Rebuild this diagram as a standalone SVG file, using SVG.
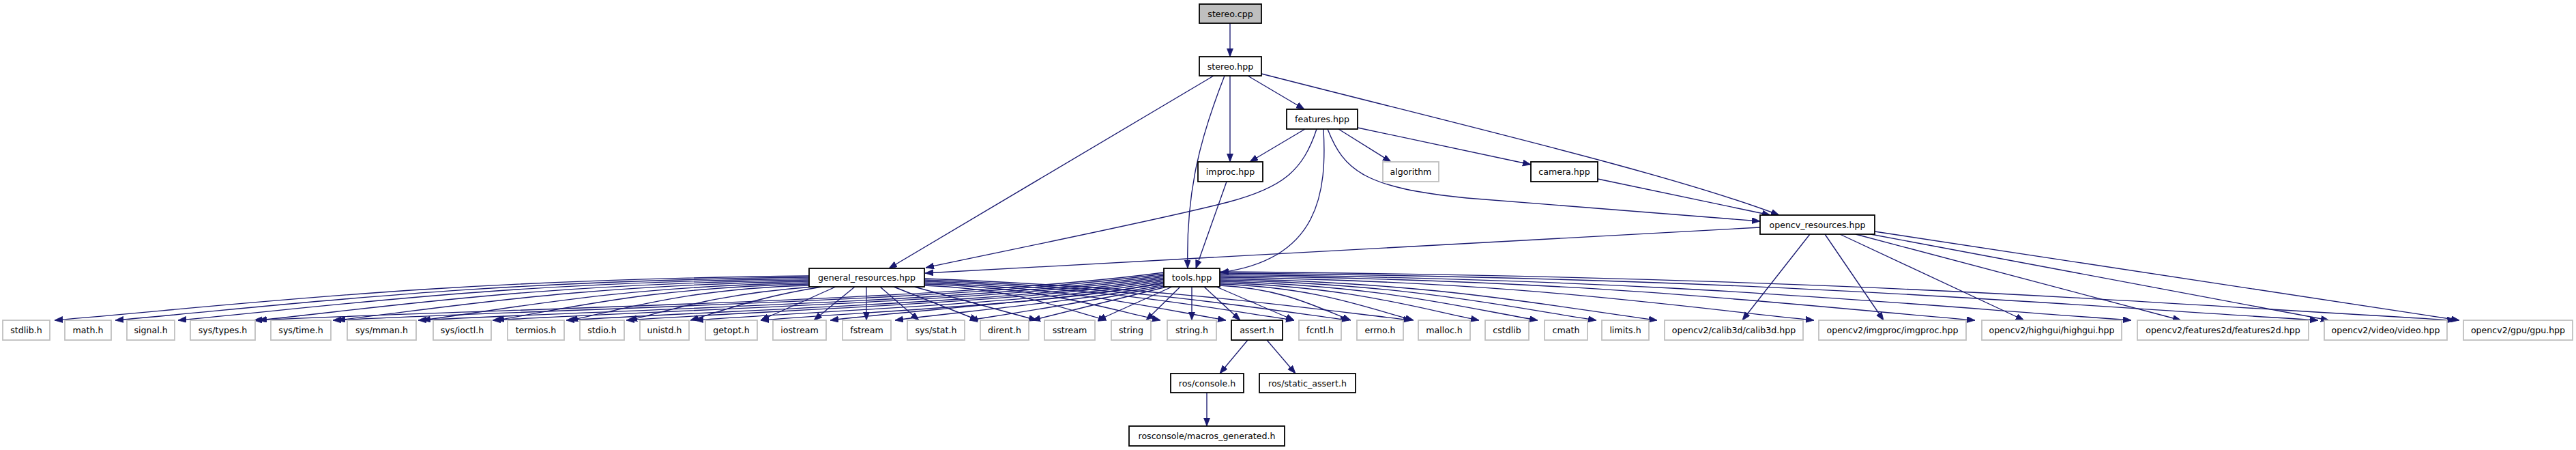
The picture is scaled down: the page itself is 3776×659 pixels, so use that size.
<svg xmlns="http://www.w3.org/2000/svg" width="3776" height="659" viewBox="0 0 3776 659">
<style>
.n rect{fill:#fff;stroke:#000;stroke-width:1.8}
.x rect{fill:#fff;stroke:#bfbfbf;stroke-width:1.8}
.root rect{fill:#bfbfbf;stroke:#000;stroke-width:1.8}
text{font-family:"DejaVu Sans",sans-serif;font-size:12.6px;text-anchor:middle;fill:#000}
#edges path{fill:none;stroke:#191970;stroke-width:1.35;marker-end:url(#ah)}
</style>
<defs>
<marker id="ah" markerUnits="userSpaceOnUse" markerWidth="13" markerHeight="10" refX="12" refY="4.5" orient="auto">
<path d="M0,0 L12,4.5 L0,9 Z" fill="#191970" stroke="#191970" stroke-width="0.8"/>
</marker>
</defs>
<rect width="3776" height="659" fill="#fff"/>
<g id="edges">
<path d="M1803,34 L1803,83"/>
<path d="M1829,111 L1912,160"/>
<path d="M1803,111 L1803,237"/>
<path d="M1779,111 L1303,393"/>
<path d="M1795,111 C1760,200 1738,280 1741,393"/>
<path d="M1849,108 C2150,185 2450,255 2608,315"/>
<path d="M1913,189 L1832,237"/>
<path d="M1962,189 L2039,237"/>
<path d="M1990,187 L2244,241"/>
<path d="M1930,189 C1910,250 1880,275 1800,296 C1700,322 1450,372 1357,392"/>
<path d="M1940,189 C1945,280 1935,380 1789,399"/>
<path d="M1946,189 C1970,250 2000,275 2150,290 L2580,324"/>
<path d="M1798,266 L1753,393"/>
<path d="M2342,262 L2595,315"/>
<path d="M2580,333 L1356,400"/>
<path d="M2653,343 L2554,469"/>
<path d="M2675,343 L2761,469"/>
<path d="M2697,343 L2967,469"/>
<path d="M2720,343 L3197,469"/>
<path d="M2742,343 L3414,469"/>
<path d="M2748,339 L3605,469"/>
<path d="M1186,404 C633,410 356,446 80,469"/>
<path d="M1186,406 C677,412 423,447 169,469"/>
<path d="M1186,408 C723,414 492,448 261,469"/>
<path d="M1186,410 C782,416 581,448 379,469"/>
<path d="M1186,412 C840,418 667,449 494,469"/>
<path d="M1186,414 C902,420 761,450 619,469"/>
<path d="M1186,416 C956,421 842,450 727,469"/>
<path d="M1186,418 C1010,423 923,451 835,469"/>
<path d="M1192,420 C1057,430 990,452 922,469"/>
<path d="M1205,420 C1110,435 1060,455 1012,469"/>
<path d="M1225,420 L1115,469"/>
<path d="M1253,420 L1193,469"/>
<path d="M1270,420 L1270,469"/>
<path d="M1290,420 L1347,469"/>
<path d="M1310,420 L1434,469"/>
<path d="M1340,420 L1520,469"/>
<path d="M1355,418 C1488,423 1555,451 1622,469"/>
<path d="M1355,416 C1528,421 1614,450 1701,469"/>
<path d="M1355,414 C1576,422 1686,450 1797,469"/>
<path d="M1355,412 C1626,422 1761,449 1897,469"/>
<path d="M1355,410 C1666,422 1821,448 1977,469"/>
<path d="M1355,408 C1712,422 1890,448 2069,469"/>
<path d="M1706,399 C1399,440 799,450 372,469"/>
<path d="M1706,401 C1426,440 878,450 488,469"/>
<path d="M1706,403 C1455,441 963,451 613,469"/>
<path d="M1706,405 C1480,441 1037,451 722,469"/>
<path d="M1706,407 C1505,442 1110,452 830,469"/>
<path d="M1706,409 C1525,442 1170,452 918,469"/>
<path d="M1706,411 C1548,443 1239,453 1019,469"/>
<path d="M1706,413 C1570,444 1304,454 1115,469"/>
<path d="M1706,415 C1560,440 1330,455 1217,469"/>
<path d="M1706,417 C1580,442 1400,457 1312,469"/>
<path d="M1706,419 C1610,440 1490,458 1421,469"/>
<path d="M1710,420 L1513,469"/>
<path d="M1718,420 L1609,469"/>
<path d="M1730,420 L1680,469"/>
<path d="M1747,420 L1747,469"/>
<path d="M1765,420 L1818,469"/>
<path d="M1783,420 L1897,469"/>
<path d="M1788,418 C1884,423 1932,451 1980,469"/>
<path d="M1788,416 C1930,421 2001,450 2072,469"/>
<path d="M1788,414 C1978,420 2073,450 2168,469"/>
<path d="M1788,412 C2021,418 2137,449 2254,469"/>
<path d="M1788,410 C2064,416 2202,448 2340,469"/>
<path d="M1788,408 C2108,414 2269,448 2429,469"/>
<path d="M1788,406 C2223,412 2441,447 2659,469"/>
<path d="M1788,404 C2341,410 2618,446 2895,469"/>
<path d="M1788,402 C2456,409 2790,446 3124,469"/>
<path d="M1788,400 C2593,407 2995,445 3398,469"/>
<path d="M1788,398 C2693,405 3146,444 3599,469"/>
<path d="M1829,498 L1788,547"/>
<path d="M1857,498 L1899,547"/>
<path d="M1769,575 L1769,624"/>
</g>
<g id="n-stereo-cpp" class="root"><rect x="1758" y="6" width="91" height="28"/><text x="1803.5" y="24.5">stereo.cpp</text></g>
<g id="n-stereo-hpp" class="n"><rect x="1758" y="83" width="91" height="28"/><text x="1803.5" y="101.5">stereo.hpp</text></g>
<g id="n-features" class="n"><rect x="1886" y="160" width="104" height="29"/><text x="1938" y="179">features.hpp</text></g>
<g id="n-improc" class="n"><rect x="1756" y="237" width="95" height="29"/><text x="1803.5" y="256">improc.hpp</text></g>
<g id="n-algorithm" class="x"><rect x="2027" y="237" width="82" height="29"/><text x="2068" y="256">algorithm</text></g>
<g id="n-camera" class="n"><rect x="2244" y="237" width="98" height="29"/><text x="2293" y="256">camera.hpp</text></g>
<g id="n-opencv-resources" class="n"><rect x="2580" y="315" width="168" height="28"/><text x="2664" y="333.5">opencv_resources.hpp</text></g>
<g id="n-general-resources" class="n"><rect x="1186" y="393" width="169" height="27"/><text x="1270.5" y="411">general_resources.hpp</text></g>
<g id="n-tools" class="n"><rect x="1706" y="393" width="82" height="27"/><text x="1747" y="411">tools.hpp</text></g>
<g id="n-stdlib" class="x"><rect x="4" y="469" width="69" height="29"/><text x="38.5" y="488">stdlib.h</text></g>
<g id="n-math" class="x"><rect x="95" y="469" width="68" height="29"/><text x="129" y="488">math.h</text></g>
<g id="n-signal" class="x"><rect x="186" y="469" width="70" height="29"/><text x="221" y="488">signal.h</text></g>
<g id="n-sys-types" class="x"><rect x="279" y="469" width="95" height="29"/><text x="326.5" y="488">sys/types.h</text></g>
<g id="n-sys-time" class="x"><rect x="397" y="469" width="88" height="29"/><text x="441" y="488">sys/time.h</text></g>
<g id="n-sys-mman" class="x"><rect x="509" y="469" width="101" height="29"/><text x="559.5" y="488">sys/mman.h</text></g>
<g id="n-sys-ioctl" class="x"><rect x="635" y="469" width="85" height="29"/><text x="677.5" y="488">sys/ioctl.h</text></g>
<g id="n-termios" class="x"><rect x="744" y="469" width="83" height="29"/><text x="785.5" y="488">termios.h</text></g>
<g id="n-stdio" class="x"><rect x="850" y="469" width="65" height="29"/><text x="882.5" y="488">stdio.h</text></g>
<g id="n-unistd" class="x"><rect x="938" y="469" width="72" height="29"/><text x="974" y="488">unistd.h</text></g>
<g id="n-getopt" class="x"><rect x="1034" y="469" width="76" height="29"/><text x="1072" y="488">getopt.h</text></g>
<g id="n-iostream" class="x"><rect x="1133" y="469" width="78" height="29"/><text x="1172" y="488">iostream</text></g>
<g id="n-fstream" class="x"><rect x="1235" y="469" width="71" height="29"/><text x="1270.5" y="488">fstream</text></g>
<g id="n-sys-stat" class="x"><rect x="1330" y="469" width="84" height="29"/><text x="1372" y="488">sys/stat.h</text></g>
<g id="n-dirent" class="x"><rect x="1437" y="469" width="71" height="29"/><text x="1472.5" y="488">dirent.h</text></g>
<g id="n-sstream" class="x"><rect x="1531" y="469" width="74" height="29"/><text x="1568" y="488">sstream</text></g>
<g id="n-string" class="x"><rect x="1629" y="469" width="58" height="29"/><text x="1658" y="488">string</text></g>
<g id="n-string-h" class="x"><rect x="1711" y="469" width="72" height="29"/><text x="1747" y="488">string.h</text></g>
<g id="n-assert" class="n"><rect x="1805" y="469" width="75" height="29"/><text x="1842.5" y="488">assert.h</text></g>
<g id="n-fcntl" class="x"><rect x="1904" y="469" width="62" height="29"/><text x="1935" y="488">fcntl.h</text></g>
<g id="n-errno" class="x"><rect x="1989" y="469" width="68" height="29"/><text x="2023" y="488">errno.h</text></g>
<g id="n-malloc" class="x"><rect x="2079" y="469" width="76" height="29"/><text x="2117" y="488">malloc.h</text></g>
<g id="n-cstdlib" class="x"><rect x="2177" y="469" width="64" height="29"/><text x="2209" y="488">cstdlib</text></g>
<g id="n-cmath" class="x"><rect x="2264" y="469" width="63" height="29"/><text x="2295.5" y="488">cmath</text></g>
<g id="n-limits" class="x"><rect x="2348" y="469" width="69" height="29"/><text x="2382.5" y="488">limits.h</text></g>
<g id="n-calib3d" class="x"><rect x="2440" y="469" width="203" height="29"/><text x="2541.5" y="488">opencv2/calib3d/calib3d.hpp</text></g>
<g id="n-imgproc" class="x"><rect x="2666" y="469" width="216" height="29"/><text x="2774" y="488">opencv2/imgproc/imgproc.hpp</text></g>
<g id="n-highgui" class="x"><rect x="2905" y="469" width="205" height="29"/><text x="3007.5" y="488">opencv2/highgui/highgui.hpp</text></g>
<g id="n-features2d" class="x"><rect x="3133" y="469" width="251" height="29"/><text x="3258.5" y="488">opencv2/features2d/features2d.hpp</text></g>
<g id="n-video" class="x"><rect x="3407" y="469" width="180" height="29"/><text x="3497" y="488">opencv2/video/video.hpp</text></g>
<g id="n-gpu" class="x"><rect x="3611" y="469" width="160" height="29"/><text x="3691" y="488">opencv2/gpu/gpu.hpp</text></g>
<g id="n-ros-console" class="n"><rect x="1716" y="547" width="107" height="28"/><text x="1769.5" y="565.5">ros/console.h</text></g>
<g id="n-ros-static-assert" class="n"><rect x="1846" y="547" width="141" height="28"/><text x="1916.5" y="565.5">ros/static_assert.h</text></g>
<g id="n-rosconsole-macros" class="n"><rect x="1655" y="624" width="228" height="29"/><text x="1769" y="643">rosconsole/macros_generated.h</text></g>
</svg>
